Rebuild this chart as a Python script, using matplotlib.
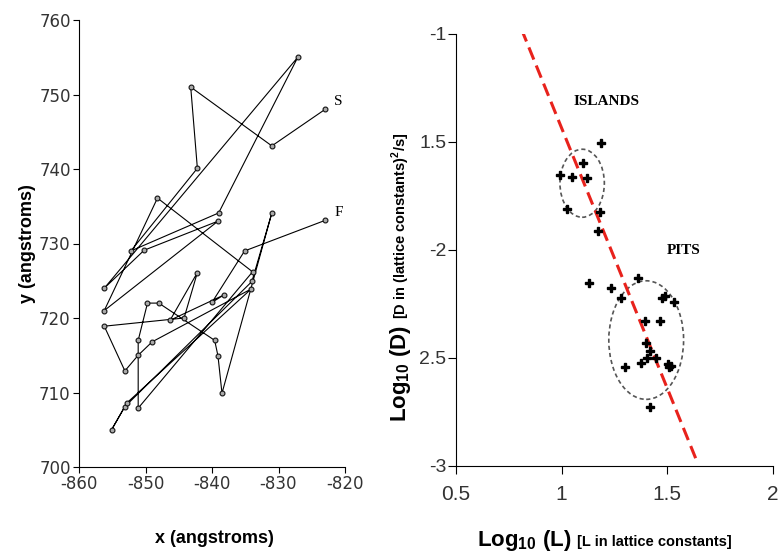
import matplotlib
matplotlib.use("Agg")
import matplotlib.pyplot as plt
from matplotlib.patches import Ellipse

plt.rcParams['mathtext.fontset'] = 'custom'
plt.rcParams['mathtext.rm'] = 'Liberation Sans:bold'
plt.rcParams['mathtext.bf'] = 'Liberation Sans:bold'
plt.rcParams['axes.unicode_minus'] = False

# trajectory of the adatom, from S to F (angstroms)
traj_x = [-823.0, -831.0, -843.2, -842.2, -852.2, -839.0, -827.1, -856.2, -850.2,
          -839.1, -856.2, -848.2, -833.9, -851.1, -851.1, -849.7, -848.0, -839.6,
          -839.1, -838.5, -831.0, -834.0, -853.1, -855.1, -852.8, -834.1, -849.0,
          -851.1, -853.1, -856.2, -844.2, -842.2, -846.3, -838.2, -840.0, -835.1,
          -823.0]
traj_y = [748.0, 743.1, 751.0, 740.1, 729.0, 734.1, 755.0, 724.0, 729.1,
          733.0, 721.0, 736.1, 726.2, 707.9, 717.0, 722.0, 722.0, 717.0,
          714.9, 709.9, 734.1, 724.9, 708.1, 705.0, 708.6, 723.9, 716.8,
          715.0, 712.9, 718.9, 720.0, 726.1, 719.7, 723.1, 722.1, 729.0,
          733.1]

# diffusion vs cluster size
log_L = [1.186, 1.099, 0.994, 1.048, 1.122, 1.027, 1.182, 1.174,
         1.127, 1.235, 1.359, 1.281, 1.475, 1.487, 1.533, 1.392, 1.464,
         1.399, 1.419, 1.404, 1.446, 1.375, 1.301, 1.502, 1.517, 1.509, 1.416]
log_D = [-1.506, -1.599, -1.653, -1.661, -1.668, -1.812, -1.826, -1.911,
         -2.151, -2.177, -2.128, -2.224, -2.224, -2.213, -2.242, -2.327, -2.327,
         -2.429, -2.466, -2.502, -2.502, -2.525, -2.543, -2.528, -2.537, -2.543, -2.725]

fit_intercept = 0.974
fit_slope = -2.41
fit_range = [0.81, 1.64]

fig = plt.figure(figsize=(7.78, 5.55), dpi=100)

# ---- left panel: trajectory
ax1 = fig.add_axes([79 / 778, 1 - 467 / 555, 266 / 778, 447 / 555])
ax1.plot(traj_x, traj_y, color='black', lw=0.8, marker='o', ms=3.5,
         mfc='#aaaaaa', mec='#111111', mew=0.8)
ax1.text(-821.6, 749.0, 'S', family='Liberation Serif', fontsize=11, va='center')
ax1.text(-821.6, 734.1, 'F', family='Liberation Serif', fontsize=11, va='center')
ax1.set_xlim(-860, -820)
ax1.set_ylim(700, 760)
ax1.set_xticks(range(-860, -819, 10))
ax1.set_yticks(range(700, 761, 10))
ax1.spines['top'].set_visible(False)
ax1.spines['right'].set_visible(False)
ax1.tick_params(direction='out', length=4, labelsize=12, labelcolor='#333333', pad=2)
ax1.set_xlabel('x (angstroms)', family='Liberation Sans', weight='bold', fontsize=13)
ax1.set_ylabel('y (angstroms)', family='Liberation Sans', weight='bold', fontsize=13)
ax1.xaxis.set_label_coords(0.51, -0.14)
ax1.yaxis.set_label_coords(-0.16, 0.5)

# ---- right panel: log D vs log L
ax2 = fig.add_axes([456 / 778, 1 - 466 / 555, 317 / 778, 432 / 555])
fx = fit_range
fy = [fit_intercept + fit_slope * v for v in fx]
ax2.plot(fx, fy, color='#e8221c', lw=2.2, linestyle=(0, (4.3, 2.1)))
ax2.plot(log_L, log_D, linestyle='none', marker='P', ms=6, color='black')
ax2.add_patch(Ellipse((1.097, -1.691), 0.21, 0.315, fill=False, ec='#555555',
                      lw=1.2, linestyle=(0, (2.5, 1.8))))
ax2.add_patch(Ellipse((1.400, -2.417), 0.354, 0.549, fill=False, ec='#555555',
                      lw=1.2, linestyle=(0, (2.5, 1.8))))
ax2.text(1.214, -1.313, 'ISLANDS', family='Liberation Serif', weight='bold',
         fontsize=11, ha='center', va='center')
ax2.text(1.575, -2.0, 'PITS', family='Liberation Serif', weight='bold',
         fontsize=11, ha='center', va='center')
ax2.set_xlim(0.5, 2)
ax2.set_ylim(-3, -1)
ax2.set_xticks([0.5, 1, 1.5, 2])
ax2.set_xticklabels(['0.5', '1', '1.5', '2'])
ax2.set_yticks([-3, -2.5, -2, -1.5, -1])
ax2.set_yticklabels(['-3', '2.5', '-2', '1.5', '-1'])
ax2.spines['top'].set_visible(False)
ax2.spines['right'].set_visible(False)
ax2.tick_params(direction='out', length=6, labelcolor='#333333')
ax2.tick_params(axis='y', labelsize=14, pad=1)
ax2.tick_params(axis='x', labelsize=15, pad=8)
for lab in ax2.get_xticklabels() + ax2.get_yticklabels():
    lab.set_family('Liberation Sans')

# axis labels of the right panel: large part + smaller bracket part
renderer = fig.canvas.get_renderer()

t1 = fig.text(477 / 778, 1 - 546 / 555, r'Log$_{\mathbf{10}}$ (L)', family='Liberation Sans',
              weight='bold', fontsize=16, ha='left', va='baseline')
bb = t1.get_window_extent(renderer)
fig.text((bb.x1 + 6) / 778, 1 - 546 / 555, '[L in lattice constants]',
         family='Liberation Sans', weight='bold', fontsize=10.5, ha='left', va='baseline')

t2 = fig.text(406 / 778, 1 - 422 / 555, r'Log$_{\mathbf{10}}$ (D)', family='Liberation Sans',
              weight='bold', fontsize=16, ha='left', va='baseline', rotation=90,
              rotation_mode='anchor')
bb = t2.get_window_extent(renderer)
fig.text(406 / 778, (bb.y1 + 6) / 555, r'[D in (lattice constants)$^{\mathrm{2}}$/s]',
         family='Liberation Sans', weight='bold', fontsize=10.5, ha='left', va='baseline',
         rotation=90, rotation_mode='anchor')

fig.savefig('out.png', dpi=100)
